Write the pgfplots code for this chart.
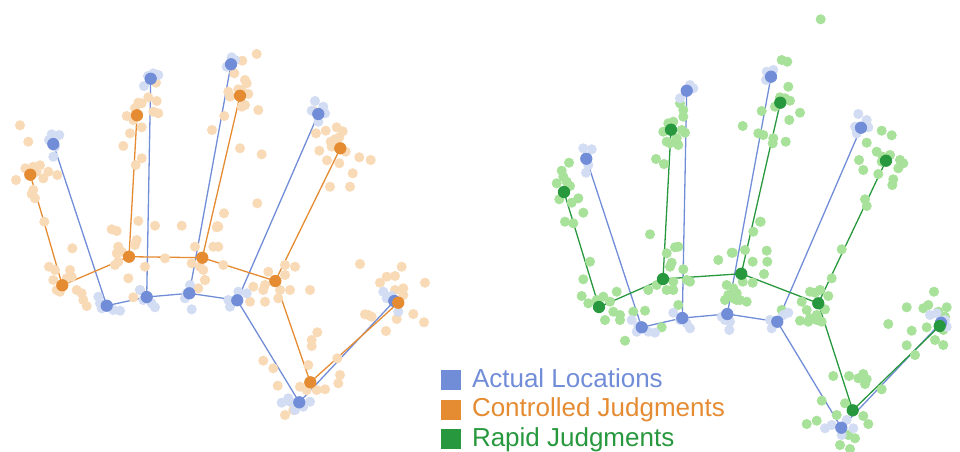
\documentclass[border=0pt]{standalone}
\usepackage{fontspec}
\setmainfont{Liberation Sans}
\usepackage{pgfplots}
\pgfplotsset{compat=1.18}
\definecolor{cblue}{RGB}{114,141,215}
\definecolor{corange}{RGB}{229,139,50}
\definecolor{cgreen}{RGB}{40,152,62}
\definecolor{lorange}{RGB}{249,218,183}
\definecolor{lblue}{RGB}{210,220,243}
\definecolor{lgreen}{RGB}{168,225,154}
\begin{document}
\begin{tikzpicture}
\begin{axis}[
  scale only axis, width=480pt, height=225.5pt,
  xmin=0, xmax=960, ymin=0, ymax=451, y dir=reverse,
  hide axis,
  scat/.style={only marks, mark=*, mark size=2.3pt, forget plot},
  bone/.style={no markers, line width=0.65pt, forget plot},
  joint/.style={only marks, mark=*, mark size=2.85pt, forget plot},
  legend style={draw=none, fill=none, at={(axis cs:441,367)}, anchor=north west,
    font=\fontsize{13}{15}\selectfont, inner sep=0pt, outer sep=0pt,
    row sep=1.75pt, column sep=5.5pt,
    nodes={inner sep=0pt, text height=10pt, text depth=3pt}},
  legend cell align=left,
  legend image code/.code={\fill[#1,draw=none] (0pt,-5pt) rectangle (10pt,5pt);},
]
% ---------- LEFT: controlled judgments scatter ----------
\addplot[scat, color=lorange] coordinates {
(20,125.3)(28.3,141.7)(25.3,168.3)(33.3,166.7)(40,165.3)(36.7,171.7)(43.3,178.3)(48.3,171.7)(57.3,175)(16,180)(33.3,190)(31.7,194)(35,198.3)(44.3,221.7)
(138.3,102.7)(141.7,103.3)(135,108.3)(126.7,116)(133.3,120)(148.3,97.3)(156.7,101)(153.3,111.7)(158.3,113.3)(141.7,127.3)(130,133.3)(123.3,146)(141.7,158.3)(135.7,165)(156,82.7)
(212,130)(138.3,221)(155,225.7)(181.7,225.7)(111.7,229.3)
(256.7,54)(242.3,60.7)(234.3,73.3)(245,80)(246.7,83.3)(238.3,89.3)(228.3,91.7)(241.7,90)(248.3,94)(230,96.7)(245,105)(241.7,106.7)(258.3,110)(224.3,116)(240,148.3)(261.7,154.3)(257.3,203.3)(224,213.3)(217.3,226)
(313.3,110.7)(316,133.3)(325.7,130.7)(336.7,127.3)(342.7,131.3)(330.7,141.7)(335,139.3)(339.3,137.3)(331.7,146.7)(345.7,151.7)(319.3,150.7)(327,160.3)(339.3,163.3)(359.3,157.3)(370.7,160)(352.7,173.3)(350,186.7)(330,186.7)
(116.7,231)(72.3,248.3)(118.3,246.7)(116.7,253.3)(121.7,251.7)(135,245)(136.7,240)(115,265)(118.3,261.7)(145,266.7)(165,258.3)(128.3,278.3)(49,266.7)(55,270)(53.3,280)(70,270)(66.7,278.3)(71.7,276.7)(76.7,290)(81.7,293.3)(56.7,290)(60,291.7)(83.3,300)(86.7,306)(133.3,297.3)(140,290)(191.7,263.3)(195,246.7)(203.3,270)(205,280)(198.3,288.3)(213.3,246.7)(216.7,227.3)
(218.3,226.7)(218.3,246.7)(200,266.7)(205,280)(223.3,265)
(268.3,271.7)(285,265)(295,266.7)(285,275)(263.3,290)(265,285)(280,290)(290,290)(278.3,298.3)(265,301.7)(250,301.7)(253.3,286.7)(310,290)
(360,264)(401.7,266.7)(386.7,276.7)(395,276)(380,282.7)(395,290)(403.3,288.3)(425,282.7)(413.3,314)(424,322.3)(386,331)(396.7,319)(365,314.3)(371.7,316.7)(368.3,315)(403.3,295)
(317.3,332.3)(311.7,340)(311.7,346)(308.3,365)(263.3,360.7)(273.3,368.3)(277.7,385.7)(337.3,358.3)(340,375)(338.3,383.3)(300,386.7)(306.7,390)(325,389.3)(316.7,390)(285,415)(293.3,410)
};
% ---------- LEFT: actual locations jitter ----------
\addplot[scat, color=lblue] coordinates {
(51.7,134.3)(59.3,135)(53.3,156.7)(55,146.7)(49,140)
(153.3,73.3)(158.3,75)(144,86)(148,76)
(231.7,57.3)(226.7,66.7)(235,60)
(315,101)(323.3,106.7)(311.7,110.7)(325,113.3)(318.3,121.7)
(98.3,296.7)(101.7,308.3)(113.3,310)(120,310.7)(100,303.3)
(140,290)(151.7,303.3)(155,307.3)(143.3,300)
(185,298.3)(191.7,309.3)(190,285)(186.7,293.3)
(238.3,291.7)(230,306.7)(246.7,293.3)(228.3,300)
(281.7,402.7)(290,401.7)(310,401.7)(303.3,406.7)(295,410)(288.3,398.3)
(383.3,291.7)(386.7,298.3)(398.3,311.7)(391.7,296)
};
% ---------- LEFT: actual skeleton ----------
\addplot[bone, cblue] coordinates {(106.7,305.7)(146.7,297)(189.3,293.3)(237.3,300.3)(299.3,402.3)(394.3,301)};
\addplot[bone, cblue] coordinates {(106.7,305.7)(53.3,144)};
\addplot[bone, cblue] coordinates {(146.7,297)(150.7,78.7)};
\addplot[bone, cblue] coordinates {(189.3,293.3)(231,64.3)};
\addplot[bone, cblue] coordinates {(237.3,300.3)(318.3,114)};
% ---------- LEFT: controlled skeleton ----------
\addplot[bone, corange] coordinates {(62.3,285.3)(129,256.7)(202.3,257.7)(275.3,281)(310.3,382.3)(398.3,302.7)};
\addplot[bone, corange] coordinates {(62.3,285.3)(30.3,174.7)};
\addplot[bone, corange] coordinates {(129,256.7)(137,115.3)};
\addplot[bone, corange] coordinates {(202.3,257.7)(240,95.7)};
\addplot[bone, corange] coordinates {(275.3,281)(340.3,148.3)};
\addplot[joint, cblue] coordinates {(53.3,144)(106.7,305.7)(150.7,78.7)(146.7,297)(231,64.3)(189.3,293.3)(318.3,114)(237.3,300.3)(299.3,402.3)(394.3,301)};
\addplot[joint, corange] coordinates {(30.3,174.7)(62.3,285.3)(137,115.3)(129,256.7)(240,95.7)(202.3,257.7)(340.3,148.3)(275.3,281)(310.3,382.3)(398.3,302.7)};
% ---------- RIGHT: rapid judgments scatter ----------
\addplot[scat, color=lgreen] coordinates {
(569,162.7)(561.7,170.7)(563.3,176.7)(556.7,183.3)(566.7,181.7)(570,186)(559.3,199.3)(571.7,202.7)(578.3,198.3)(583.3,212.7)(565,221.7)(573.3,223.3)
(680,103.3)(683.3,110)(683.3,116.7)(668.3,123.3)(673.3,121.7)(663.3,131.7)(666.7,141.7)(670,143.3)(678.3,145)(681.7,130)(685,132.7)(656,159)(664,164)(676.7,138.3)
(820.7,19.3)(781.7,60)(787.3,61.7)(788.3,86.7)(780,97.3)(785,98.3)(790,100.7)(775,106.7)(761.7,111)(800,112.7)(789.3,120)(742.7,126)(758.3,133.3)(763.3,135)(773.3,138.3)(772.7,143.3)(785.7,141.7)(760.7,221.7)
(881.7,130.7)(891.7,135.3)(866.7,142.7)(876.7,151.7)(890,155)(882.7,156.7)(900,160)(903.3,163.3)(898.3,168.3)(859,160)(863.3,170)(878.3,174)(893.3,179.3)(892.3,185)(865,199.3)(866.7,206)(881.7,161.7)
(650,234.3)(675,247.3)(678.3,246.7)(666.7,253.3)(671.7,262.7)(670,266.7)(683.3,269.3)(686.7,280)(690,281.7)(673.3,281.7)(666.7,290)(656.7,285)(648.3,290)(673.3,290)(678.3,305)(590,261.7)(583.3,279.3)(581.7,296)(588.3,303.3)(596.7,300)(603.3,296.7)(610,301.7)(605,320)(616.7,291.7)(620,320)(620,315)(613.3,311.7)(633.3,311.7)(645,310.7)(625,340.7)(661.7,327.3)(718.3,260)(731.7,252.7)(726.7,285)(733.3,288.3)(728.3,295)(725,300)(736.7,300)
(760,221.7)(753.3,231.7)(745,250)(732.7,252.7)(766.7,250.7)(767.3,261.7)(752.7,261.7)(764,274)(742.7,281.7)(752.7,282.7)(736.7,293.3)(740,300)(746.7,301.7)(733.3,298.3)
(841.7,249.3)(831.7,278.3)(810,291.7)(815,292.7)(820,290)(828.3,296)(801.7,301.7)(806.7,310)(825,309.3)(816.7,315)(810,318.3)(800,320.7)(808.3,321.7)(816.7,320)(821.7,321.7)(781.7,310)
(934,291.7)(928.3,305)(923.3,308.3)(906.7,307.3)(888.3,324)(911.7,330.7)(926.7,327.3)(935,340)(943.3,345)(906.7,345.3)(915,355)(943.3,330)(946.7,307.3)(938.3,311.7)(945,316.7)
(833.3,376)(849,376)(858.3,378.3)(863.3,374)(866.7,379.3)(865,384)(881.7,389.3)(821.7,400.7)(845,403.3)(863.3,416)(868.3,424)(806.7,424)(816.7,420.7)(836.7,415)(848.3,435)(855,438.3)(840,445)(850,449)
};
% ---------- RIGHT: actual locations jitter ----------
\addplot[scat, color=lblue] coordinates {
(583.3,148.3)(591.7,149.3)(586,172.7)(588.3,165)
(690,85)(693.3,88.3)(680,98.3)
(766.7,71.7)(773.3,70)(766,80)
(858.3,114)(866.7,120)(855,126.7)(868.3,127.3)(856.7,133.3)
(631.7,320)(638.3,326)(636.7,331.7)(648.3,331.7)(655,332.7)
(673.3,312.7)(680,320)(686.7,323.3)(690,328.3)
(721.7,316.7)(730,321.7)(729.3,330)(725,320)
(770,320)(783.3,315)(771.7,328.3)(788.3,312.7)
(825,428.3)(831.7,425)(853.3,428.3)(841.7,435)(846.7,420)
(930,315)(945,320)(946.7,326.7)(936.7,313.3)
};
% ---------- RIGHT: actual skeleton ----------
\addplot[bone, cblue] coordinates {(641.7,327.3)(682.3,318)(727.3,314)(777.3,321.7)(841.3,427.7)(941,322.7)};
\addplot[bone, cblue] coordinates {(641.7,327.3)(586.3,158.7)};
\addplot[bone, cblue] coordinates {(682.3,318)(686.7,90.7)};
\addplot[bone, cblue] coordinates {(727.3,314)(771,76.7)};
\addplot[bone, cblue] coordinates {(777.3,321.7)(861,127.7)};
% ---------- RIGHT: rapid skeleton ----------
\addplot[bone, cgreen] coordinates {(599,307)(663,279)(741.3,273.7)(818.3,303.3)(852.7,410.3)(939.7,326)};
\addplot[bone, cgreen] coordinates {(599,307)(564,192)};
\addplot[bone, cgreen] coordinates {(663,279)(671,129.7)};
\addplot[bone, cgreen] coordinates {(741.3,273.7)(780.3,102.7)};
\addplot[bone, cgreen] coordinates {(818.3,303.3)(886,160.7)};
\addplot[joint, cblue] coordinates {(586.3,158.7)(641.7,327.3)(686.7,90.7)(682.3,318)(771,76.7)(727.3,314)(861,127.7)(777.3,321.7)(841.3,427.7)(941,322.7)};
\addplot[joint, cgreen] coordinates {(564,192)(599,307)(671,129.7)(663,279)(780.3,102.7)(741.3,273.7)(886,160.7)(818.3,303.3)(852.7,410.3)(939.7,326)};
% ---------- legend ----------
\addlegendimage{fill=cblue, draw=none}
\addlegendentry{\textcolor{cblue}{Actual Locations}}
\addlegendimage{fill=corange, draw=none}
\addlegendentry{\textcolor{corange}{Controlled Judgments}}
\addlegendimage{fill=cgreen, draw=none}
\addlegendentry{\textcolor{cgreen}{Rapid Judgments}}
\end{axis}
\pgfresetboundingbox
\useasboundingbox (current axis.south west) rectangle (current axis.north east);
\end{tikzpicture}
\end{document}
